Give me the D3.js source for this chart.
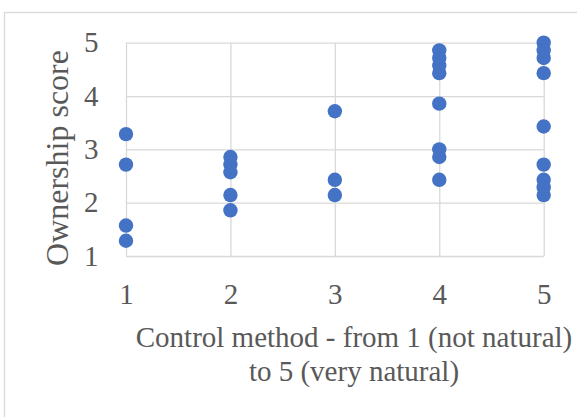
<!DOCTYPE html>
<html>
<head>
<meta charset="utf-8">
<script src="https://cdn.jsdelivr.net/npm/d3@7"></script>
<style>
  html, body { margin: 0; padding: 0; background: #fff; }
  svg { display: block; }
</style>
</head>
<body>
<svg id="chart" width="577" height="417"></svg>
<script>
// Data: control method rating (x) vs ownership score (y)
const controlMethod = [1,1,1,1, 2,2,2,2,2, 3,3,3, 4,4,4,4,4,4,4,4, 5,5,5,5,5,5,5,5,5];
const ownershipScore = [
  3.286, 2.714, 1.571, 1.286,
  2.857, 2.714, 2.571, 2.143, 1.857,
  3.714, 2.429, 2.143,
  4.857, 4.714, 4.571, 4.429, 3.857, 3.000, 2.857, 2.429,
  5.000, 4.857, 4.714, 4.429, 3.429, 2.714, 2.429, 2.286, 2.143
];
const xTicks = [1, 2, 3, 4, 5];
const yTicks = [1, 2, 3, 4, 5];
const xTitleLines = ["Control method - from 1 (not natural)", "to 5 (very natural)"];
const yTitle = "Ownership score";

const points = controlMethod.map((c, i) => ({ x: c, y: ownershipScore[i] }));

const svg = d3.select("#chart");
const textColor = "#595959";
const gridColor = "#d9d9d9";
const font = "'Liberation Serif', 'Times New Roman', serif";

// outer chart border (cropped on right/bottom)
svg.append("rect")
  .attr("x", 4.5).attr("y", 12.5)
  .attr("width", 600).attr("height", 450)
  .attr("fill", "none").attr("stroke", gridColor).attr("stroke-width", 1.3);

const plotL = 126, plotR = 543.7, plotT = 42.7, plotB = 256;
const x = d3.scaleLinear().domain([1, 5]).range([plotL, plotR]);
const y = d3.scaleLinear().domain([1, 5]).range([plotB, plotT]);

const xAxis = d3.axisBottom(x).tickValues(xTicks).tickFormat(d3.format("d"))
  .tickSize(-(plotB - plotT)).tickPadding(27);
const yAxis = d3.axisLeft(y).tickValues(yTicks).tickFormat(d3.format("d"))
  .tickSize(-(plotR - plotL)).tickPadding(27.5);

const gx = svg.append("g").attr("transform", `translate(0,${plotB})`).call(xAxis);
const gy = svg.append("g").attr("transform", `translate(${plotL},0)`).call(yAxis);

[gx, gy].forEach(g => {
  g.select(".domain").remove();
  g.selectAll(".tick line").attr("stroke", gridColor).attr("stroke-width", 1.3);
  g.selectAll(".tick text")
    .attr("fill", textColor)
    .style("font-family", font)
    .style("font-size", "29px");
});

// points
svg.append("g").selectAll("circle")
  .data(points)
  .join("circle")
  .attr("cx", d => x(d.x))
  .attr("cy", d => y(d.y))
  .attr("r", 7.2)
  .attr("fill", "#4472C4");

// x title
const xt = svg.append("text")
  .attr("text-anchor", "middle")
  .attr("fill", textColor)
  .style("font-family", font)
  .style("font-size", "29px");
xTitleLines.forEach((line, i) => {
  xt.append("tspan").attr("x", 354).attr("y", 347.3 + i * 33.4).text(line);
});

// y title
svg.append("text")
  .attr("transform", "translate(68,158) rotate(-90)")
  .attr("text-anchor", "middle")
  .attr("fill", textColor)
  .style("font-family", font)
  .style("font-size", "32px")
  .text(yTitle);
</script>
</body>
</html>
